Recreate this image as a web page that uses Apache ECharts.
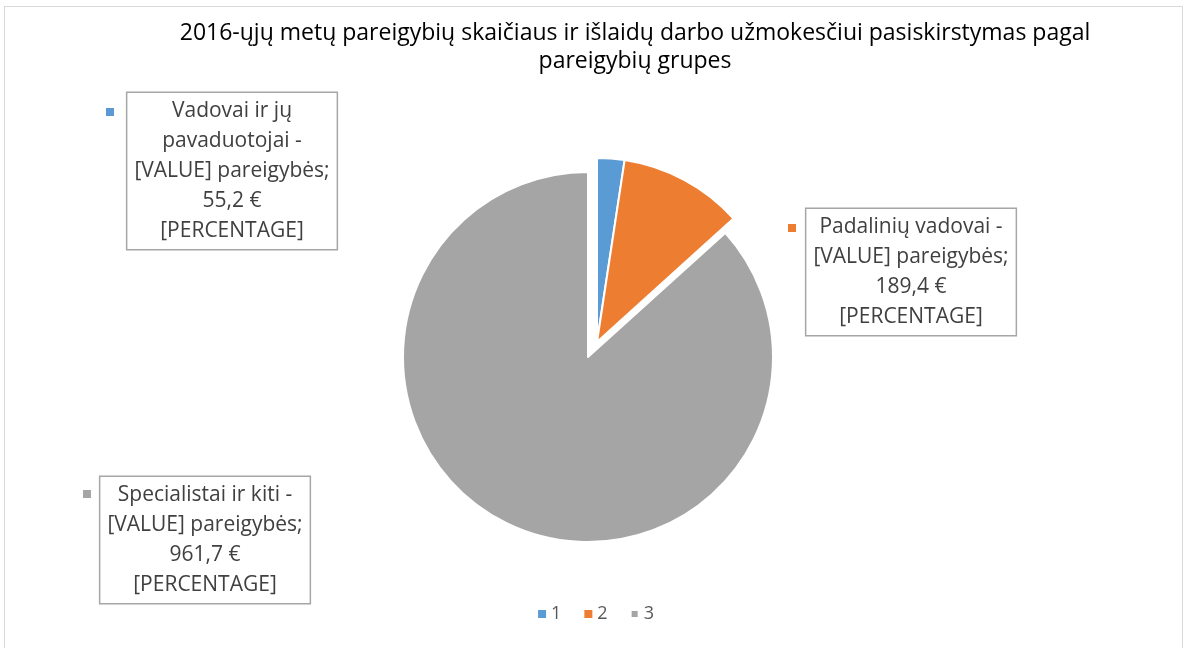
<!DOCTYPE html>
<html><head><meta charset="utf-8">
<script src="https://cdn.jsdelivr.net/npm/echarts@6/dist/echarts.min.js"></script>
<style>
html,body{margin:0;padding:0;background:#fff;}
#frame{position:absolute;left:4px;top:6px;width:1179px;height:660px;border:1.5px solid #d9d9d9;box-sizing:border-box;}
#chart{position:absolute;left:0;top:0;width:1191px;height:648px;}
</style></head>
<body>
<div id="frame"></div>
<div id="chart"></div>
<script>
const legendNames = ['1', '2', '3'];
const groupNames = ['Vadovai ir jų\npavaduotojai -', 'Padalinių vadovai -', 'Specialistai ir kiti -'];
const euros = ['55,2 €', '189,4 €', '961,7 €'];
const shares = [2.4, 10.9, 86.7];
const colors = ['#5b9bd5', '#ed7d31', '#a5a5a5'];
const exploded = [true, true, false];
const titleText = '2016-ųjų metų pareigybių skaičiaus ir išlaidų darbo užmokesčiui pasiskirstymas pagal\npareigybių grupes';

const labelPos = [[232, 171], [911, 272], [205, 540]];
const keyPos = [[106, 108], [788, 224], [83, 490]];
const FONT = 'Open Sans';
const CLEAR = 'rgba(0,0,0,0)';

const baseSeries = {
  type: 'pie', startAngle: 90, clockwise: true,
  avoidLabelOverlap: false, silent: true,
  itemStyle: { borderColor: '#fff', borderWidth: 2 },
  labelLine: { show: false },
  emphasis: { disabled: true }
};

const chart = echarts.init(document.getElementById('chart'));
chart.setOption({
  animation: false,
  title: {
    text: titleText, left: 630, top: 14, textAlign: 'center',
    textStyle: { fontFamily: FONT, fontSize: 23, fontWeight: 'normal', color: '#000', lineHeight: 28 }
  },
  legend: {
    data: legendNames.map((n, i) => ({ name: n, itemStyle: { color: colors[i] } })),
    bottom: 20, left: 'center', icon: 'rect', itemWidth: 8, itemHeight: 8, itemGap: 22,
    selectedMode: false,
    textStyle: { fontFamily: FONT, fontSize: 18, color: '#595959' }
  },
  graphic: keyPos.map((p, i) => ({ type: 'rect', shape: { x: p[0], y: p[1], width: 8, height: 8 }, style: { fill: colors[i] } })),
  series: [
    Object.assign({}, baseSeries, {
      name: 'base', center: [588, 357], radius: 185,
      label: {
        show: true, position: 'outside',
        formatter: p => groupNames[p.dataIndex] + '\n[VALUE] pareigybės;\n' + euros[p.dataIndex] + '\n[PERCENTAGE]',
        fontFamily: FONT, fontSize: 21, color: '#404040', lineHeight: 30, align: 'center',
        backgroundColor: '#fff', borderColor: '#a6a6a6', borderWidth: 1.5, padding: [3, 7]
      },
      labelLayout: p => ({ x: labelPos[p.dataIndex][0], y: labelPos[p.dataIndex][1], align: 'center', verticalAlign: 'middle', moveOverlap: false }),
      data: legendNames.map((n, i) => ({
        name: n, value: shares[i],
        itemStyle: exploded[i] ? { color: CLEAR, borderColor: CLEAR } : { color: colors[i] }
      }))
    }),
    Object.assign({}, baseSeries, {
      name: 'exploded', center: [597, 342], radius: 184,
      label: { show: false },
      data: legendNames.map((n, i) => ({
        name: n, value: shares[i],
        itemStyle: exploded[i] ? { color: colors[i] } : { color: CLEAR, borderColor: CLEAR }
      }))
    })
  ]
});
</script>
</body></html>
